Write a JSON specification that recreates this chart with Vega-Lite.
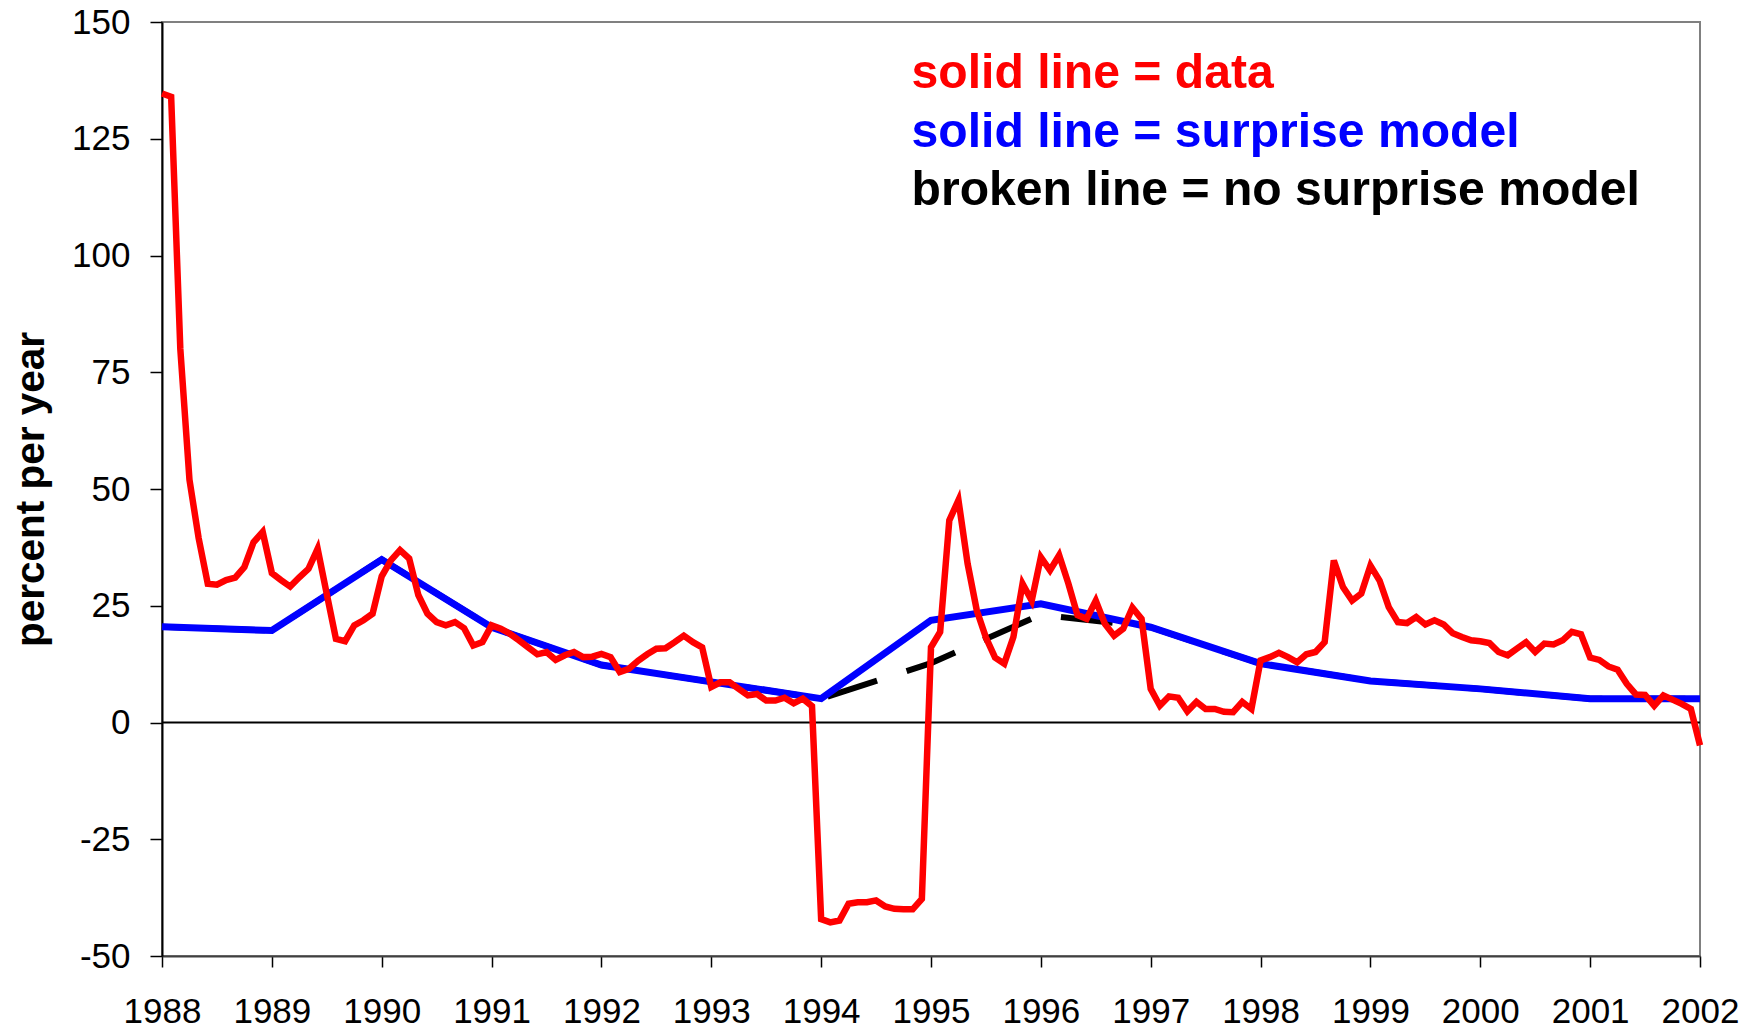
{
  "$schema": "https://vega.github.io/schema/vega-lite/v6.json",
  "width": 1538,
  "height": 934,
  "autosize": {"type": "none"},
  "padding": {"left": 162, "top": 22, "right": 63, "bottom": 73},
  "background": "white",
  "config": {
    "view": {"stroke": "#808080", "strokeWidth": 2},
    "font": "Liberation Sans"
  },
  "datasets": {
    "zero": [{"v": 0}],
    "series": [
      {"t": 1988, "v": 134.7}, {"t": 1988.0833, "v": 134.0}, {"t": 1988.1667, "v": 80}, {"t": 1988.25, "v": 52}, {"t": 1988.3333, "v": 39.5}, {"t": 1988.4167, "v": 29.7}, {"t": 1988.5, "v": 29.5}, {"t": 1988.5833, "v": 30.5}, {"t": 1988.6667, "v": 31}, {"t": 1988.75, "v": 33.3}, {"t": 1988.8333, "v": 38.6}, {"t": 1988.9167, "v": 40.8},
      {"t": 1989, "v": 32}, {"t": 1989.0833, "v": 30.5}, {"t": 1989.1667, "v": 29.1}, {"t": 1989.25, "v": 31.1}, {"t": 1989.3333, "v": 32.9}, {"t": 1989.4167, "v": 37.2}, {"t": 1989.5, "v": 27.5}, {"t": 1989.5833, "v": 17.9}, {"t": 1989.6667, "v": 17.4}, {"t": 1989.75, "v": 20.8}, {"t": 1989.8333, "v": 21.9}, {"t": 1989.9167, "v": 23.3},
      {"t": 1990, "v": 31.3}, {"t": 1990.0833, "v": 34.7}, {"t": 1990.1667, "v": 36.9}, {"t": 1990.25, "v": 35.1}, {"t": 1990.3333, "v": 27.3}, {"t": 1990.4167, "v": 23.3}, {"t": 1990.5, "v": 21.5}, {"t": 1990.5833, "v": 20.8}, {"t": 1990.6667, "v": 21.5}, {"t": 1990.75, "v": 20.2}, {"t": 1990.8333, "v": 16.5}, {"t": 1990.9167, "v": 17.2},
      {"t": 1991, "v": 20.8}, {"t": 1991.0833, "v": 20.1}, {"t": 1991.1667, "v": 19.0}, {"t": 1991.25, "v": 17.6}, {"t": 1991.3333, "v": 16.1}, {"t": 1991.4167, "v": 14.6}, {"t": 1991.5, "v": 15.1}, {"t": 1991.5833, "v": 13.4}, {"t": 1991.6667, "v": 14.4}, {"t": 1991.75, "v": 15.1}, {"t": 1991.8333, "v": 14.0}, {"t": 1991.9167, "v": 14.1},
      {"t": 1992, "v": 14.7}, {"t": 1992.0833, "v": 14.0}, {"t": 1992.1667, "v": 10.8}, {"t": 1992.25, "v": 11.5}, {"t": 1992.3333, "v": 13.2}, {"t": 1992.4167, "v": 14.6}, {"t": 1992.5, "v": 15.8}, {"t": 1992.5833, "v": 15.9}, {"t": 1992.6667, "v": 17.2}, {"t": 1992.75, "v": 18.6}, {"t": 1992.8333, "v": 17.2}, {"t": 1992.9167, "v": 16.1},
      {"t": 1993, "v": 7.6}, {"t": 1993.0833, "v": 8.6}, {"t": 1993.1667, "v": 8.6}, {"t": 1993.25, "v": 7.2}, {"t": 1993.3333, "v": 5.8}, {"t": 1993.4167, "v": 6.1}, {"t": 1993.5, "v": 4.7}, {"t": 1993.5833, "v": 4.7}, {"t": 1993.6667, "v": 5.3}, {"t": 1993.75, "v": 4.1}, {"t": 1993.8333, "v": 5.1}, {"t": 1993.9167, "v": 3.5},
      {"t": 1994, "v": -42.1}, {"t": 1994.0833, "v": -42.8}, {"t": 1994.1667, "v": -42.4}, {"t": 1994.25, "v": -38.8}, {"t": 1994.3333, "v": -38.5}, {"t": 1994.4167, "v": -38.5}, {"t": 1994.5, "v": -38.1}, {"t": 1994.5833, "v": -39.4}, {"t": 1994.6667, "v": -39.9}, {"t": 1994.75, "v": -40}, {"t": 1994.8333, "v": -40}, {"t": 1994.9167, "v": -37.8},
      {"t": 1995, "v": 16.1}, {"t": 1995.0833, "v": 19.4}, {"t": 1995.1667, "v": 43.3}, {"t": 1995.25, "v": 47.6}, {"t": 1995.3333, "v": 34}, {"t": 1995.4167, "v": 24}, {"t": 1995.5, "v": 18.2}, {"t": 1995.5833, "v": 13.9}, {"t": 1995.6667, "v": 12.6}, {"t": 1995.75, "v": 18.3}, {"t": 1995.8333, "v": 29.7}, {"t": 1995.9167, "v": 26.1},
      {"t": 1996, "v": 35.4}, {"t": 1996.0833, "v": 32.6}, {"t": 1996.1667, "v": 35.8}, {"t": 1996.25, "v": 29.8}, {"t": 1996.3333, "v": 23}, {"t": 1996.4167, "v": 22.2}, {"t": 1996.5, "v": 26.1}, {"t": 1996.5833, "v": 21.1}, {"t": 1996.6667, "v": 18.6}, {"t": 1996.75, "v": 20.1}, {"t": 1996.8333, "v": 24.6}, {"t": 1996.9167, "v": 22.2},
      {"t": 1997, "v": 7.2}, {"t": 1997.0833, "v": 3.6}, {"t": 1997.1667, "v": 5.6}, {"t": 1997.25, "v": 5.3}, {"t": 1997.3333, "v": 2.4}, {"t": 1997.4167, "v": 4.4}, {"t": 1997.5, "v": 2.9}, {"t": 1997.5833, "v": 2.9}, {"t": 1997.6667, "v": 2.3}, {"t": 1997.75, "v": 2.2}, {"t": 1997.8333, "v": 4.4}, {"t": 1997.9167, "v": 2.9},
      {"t": 1998, "v": 13.3}, {"t": 1998.0833, "v": 14}, {"t": 1998.1667, "v": 14.9}, {"t": 1998.25, "v": 14}, {"t": 1998.3333, "v": 12.9}, {"t": 1998.4167, "v": 14.6}, {"t": 1998.5, "v": 15.1}, {"t": 1998.5833, "v": 17.2}, {"t": 1998.6667, "v": 34.7}, {"t": 1998.75, "v": 29}, {"t": 1998.8333, "v": 26.1}, {"t": 1998.9167, "v": 27.6},
      {"t": 1999, "v": 33.6}, {"t": 1999.0833, "v": 30.4}, {"t": 1999.1667, "v": 24.7}, {"t": 1999.25, "v": 21.5}, {"t": 1999.3333, "v": 21.3}, {"t": 1999.4167, "v": 22.6}, {"t": 1999.5, "v": 21}, {"t": 1999.5833, "v": 21.9}, {"t": 1999.6667, "v": 21}, {"t": 1999.75, "v": 19.1}, {"t": 1999.8333, "v": 18.3}, {"t": 1999.9167, "v": 17.6},
      {"t": 2000, "v": 17.4}, {"t": 2000.0833, "v": 17}, {"t": 2000.1667, "v": 15.1}, {"t": 2000.25, "v": 14.4}, {"t": 2000.3333, "v": 15.8}, {"t": 2000.4167, "v": 17.2}, {"t": 2000.5, "v": 15.1}, {"t": 2000.5833, "v": 16.9}, {"t": 2000.6667, "v": 16.7}, {"t": 2000.75, "v": 17.6}, {"t": 2000.8333, "v": 19.4}, {"t": 2000.9167, "v": 18.9},
      {"t": 2001, "v": 13.9}, {"t": 2001.0833, "v": 13.4}, {"t": 2001.1667, "v": 12}, {"t": 2001.25, "v": 11.3}, {"t": 2001.3333, "v": 8.3}, {"t": 2001.4167, "v": 6}, {"t": 2001.5, "v": 5.9}, {"t": 2001.5833, "v": 3.6}, {"t": 2001.6667, "v": 5.8}, {"t": 2001.75, "v": 4.9}, {"t": 2001.8333, "v": 4}, {"t": 2001.9167, "v": 2.9},
      {"t": 2002, "v": -4.9}
    ],
    "surprise": [
      {"t": 1988, "v": 20.5}, {"t": 1989, "v": 19.7}, {"t": 1990, "v": 34.9}, {"t": 1991, "v": 20.4}, {"t": 1992, "v": 12.3}, {"t": 1993, "v": 8.7}, {"t": 1994, "v": 5.1}, {"t": 1995, "v": 21.9}, {"t": 1996, "v": 25.4}, {"t": 1997, "v": 20.4}, {"t": 1998, "v": 12.6}, {"t": 1999, "v": 8.9}, {"t": 2000, "v": 7.2}, {"t": 2001, "v": 5.1}, {"t": 2002, "v": 5.1}
    ],
    "nosurprise": [
      {"t": 1988, "v": 20.5}, {"t": 1989, "v": 19.7}, {"t": 1990, "v": 34.9}, {"t": 1991, "v": 20.4}, {"t": 1992, "v": 12.3}, {"t": 1993, "v": 8.7}, {"t": 1994, "v": 5.1}, {"t": 1995, "v": 12.7}, {"t": 1996, "v": 23.1}, {"t": 1997, "v": 20.4}, {"t": 1998, "v": 12.6}, {"t": 1999, "v": 8.9}, {"t": 2000, "v": 7.2}, {"t": 2001, "v": 5.1}, {"t": 2002, "v": 5.1}
    ],
    "labels": [
      {"t": 1994.823, "v": 135.8, "label": "solid line = data", "s": "data"},
      {"t": 1994.823, "v": 123.3, "label": "solid line = surprise model", "s": "surprise"},
      {"t": 1994.823, "v": 110.8, "label": "broken line = no surprise model", "s": "nosurprise"}
    ]
  },
  "encoding": {
    "x": {
      "field": "t",
      "type": "quantitative",
      "scale": {"domain": [1988, 2002], "nice": false, "zero": false},
      "axis": {
        "values": [1988, 1989, 1990, 1991, 1992, 1993, 1994, 1995, 1996, 1997, 1998, 1999, 2000, 2001, 2002],
        "labelExpr": "'' + datum.value",
        "title": null,
        "grid": false,
        "labelFontSize": 35,
        "labelColor": "black",
        "labelPadding": 27,
        "tickSize": 11,
        "tickColor": "black",
        "tickWidth": 1.5,
        "domainColor": "#404040",
        "domainWidth": 2,
        "labelFlush": false,
        "labelOverlap": false,
        "labelBound": false
      }
    },
    "y": {
      "field": "v",
      "type": "quantitative",
      "scale": {"domain": [-50, 150], "nice": false, "zero": false},
      "axis": {
        "values": [-50, -25, 0, 25, 50, 75, 100, 125, 150],
        "labelExpr": "'' + datum.value",
        "title": "percent per year",
        "titleFontSize": 40.5,
        "titleFontWeight": "bold",
        "titleColor": "black",
        "titlePadding": 19,
        "grid": false,
        "labelFontSize": 35,
        "labelColor": "black",
        "labelPadding": 20,
        "tickSize": 12,
        "tickColor": "black",
        "tickWidth": 1.5,
        "domainColor": "black",
        "domainWidth": 2,
        "labelFlush": false,
        "labelOverlap": false
      }
    }
  },
  "layer": [
    {
      "data": {"name": "zero"},
      "mark": {"type": "rule", "color": "black", "strokeWidth": 2},
      "encoding": {"x": null, "y": {"field": "v", "type": "quantitative"}}
    },
    {
      "data": {"name": "nosurprise"},
      "mark": {"type": "line", "color": "black", "strokeWidth": 6, "strokeDash": [52, 31], "strokeDashOffset": 32, "strokeCap": "butt"}
    },
    {
      "data": {"name": "surprise"},
      "mark": {"type": "line", "color": "#0000ff", "strokeWidth": 7}
    },
    {
      "data": {"name": "series"},
      "mark": {"type": "line", "color": "#ff0000", "strokeWidth": 6.5}
    },
    {
      "data": {"name": "labels"},
      "mark": {"type": "text", "align": "left", "baseline": "alphabetic", "fontSize": 48.1, "fontWeight": "bold", "font": "Liberation Sans"},
      "encoding": {
        "text": {"field": "label", "type": "nominal"},
        "color": {"field": "s", "type": "nominal", "scale": {"domain": ["data", "surprise", "nosurprise"], "range": ["#ff0000", "#0000ff", "#000000"]}, "legend": null}
      }
    }
  ]
}
